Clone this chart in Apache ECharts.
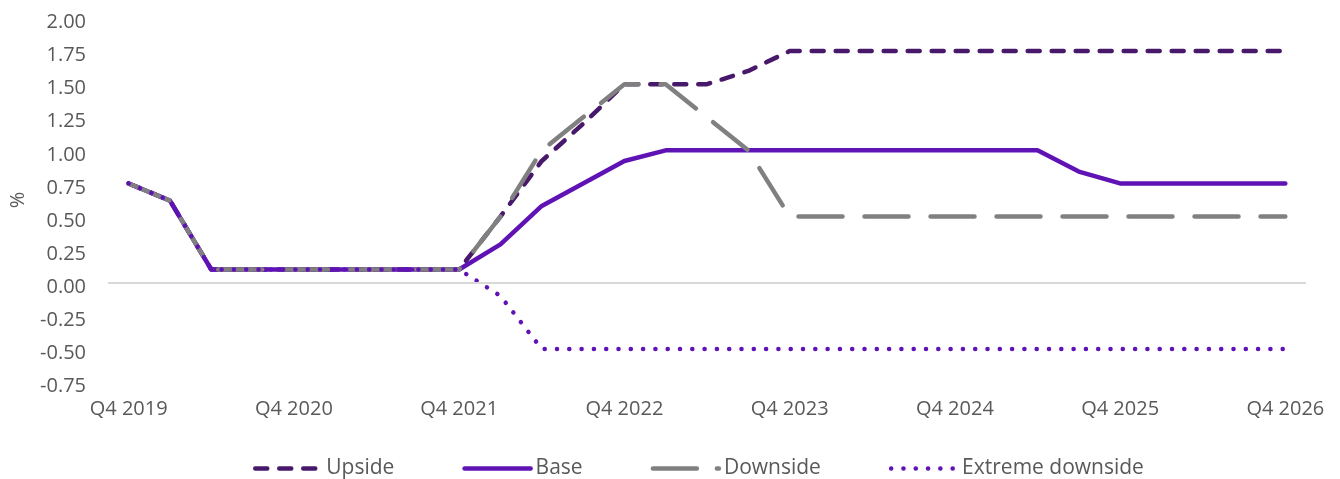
<!DOCTYPE html>
<html>
<head>
<meta charset="utf-8">
<script src="https://cdn.jsdelivr.net/npm/echarts@6/dist/echarts.min.js"></script>
<style>
html,body{margin:0;padding:0;background:#fff;}
#chart{width:1340px;height:479px;}
</style>
</head>
<body>
<div id="chart"></div>
<script>
const categories = ["Q4 2019","Q1 2020","Q2 2020","Q3 2020","Q4 2020","Q1 2021","Q2 2021","Q3 2021","Q4 2021","Q1 2022","Q2 2022","Q3 2022","Q4 2022","Q1 2023","Q2 2023","Q3 2023","Q4 2023","Q1 2024","Q2 2024","Q3 2024","Q4 2024","Q1 2025","Q2 2025","Q3 2025","Q4 2025","Q1 2026","Q2 2026","Q3 2026","Q4 2026"];
const upside = [0.75,0.62,0.1,0.1,0.1,0.1,0.1,0.1,0.1,0.5,0.92,1.2,1.5,1.5,1.5,1.6,1.75,1.75,1.75,1.75,1.75,1.75,1.75,1.75,1.75,1.75,1.75,1.75,1.75];
const base = [0.75,0.62,0.1,0.1,0.1,0.1,0.1,0.1,0.1,0.29,0.58,0.75,0.92,1,1,1,1,1,1,1,1,1,1,0.84,0.75,0.75,0.75,0.75,0.75];
const downside = [0.75,0.62,0.1,0.1,0.1,0.1,0.1,0.1,0.1,0.5,1.0,1.25,1.5,1.5,1.25,1.0,0.5,0.5,0.5,0.5,0.5,0.5,0.5,0.5,0.5,0.5,0.5,0.5,0.5];
const extremeDownside = [0.75,0.62,0.1,0.1,0.1,0.1,0.1,0.1,0.1,-0.1,-0.5,-0.5,-0.5,-0.5,-0.5,-0.5,-0.5,-0.5,-0.5,-0.5,-0.5,-0.5,-0.5,-0.5,-0.5,-0.5,-0.5,-0.5,-0.5];
const seriesNames = ["Upside","Base","Downside","Extreme downside"];

const FONT = "'Open Sans', sans-serif";
const TXT = "#595959";
const chart = echarts.init(document.getElementById('chart'), null, {renderer:'canvas'});
chart.setOption({
  animation: false,
  backgroundColor: '#ffffff',
  grid: {left: 106, right: 34, top: 18, bottom: 97},
  legend: {
    data: [
      {name: seriesNames[0]},
      {name: seriesNames[1]},
      {name: seriesNames[2], lineStyle: {type: [44, 20]}},
      {name: seriesNames[3]}
    ],
    left: 248, top: 453,
    itemWidth: 66, itemHeight: 14, itemGap: 68,
    itemStyle: {opacity: 0},
    lineStyle: {width: 4.5, cap: 'round'},
    textStyle: {fontFamily: FONT, fontSize: 21, color: TXT}
  },
  xAxis: {
    type: 'category',
    data: categories,
    boundaryGap: true,
    axisLine: {show: false},
    axisTick: {show: false},
    splitLine: {show: false},
    axisLabel: {interval: 3, margin: 17, fontFamily: FONT, fontSize: 20, color: TXT}
  },
  yAxis: {
    type: 'value',
    min: -0.75, max: 2, interval: 0.25,
    name: '%', nameLocation: 'middle', nameRotate: 90, nameGap: 80,
    nameTextStyle: {fontFamily: FONT, fontSize: 20, color: TXT},
    axisLine: {show: false},
    axisTick: {show: false},
    splitLine: {show: false},
    axisLabel: {margin: 22, fontFamily: FONT, fontSize: 20, color: TXT,
      verticalAlign: 'top', lineHeight: 9,
      formatter: v => v.toFixed(2)}
  },
  series: [
    {name: seriesNames[0], type: 'line', data: upside, symbol: 'none',
     lineStyle: {color: '#48186a', width: 4.5, type: [12, 12], cap: 'round', join: 'round'},
     itemStyle: {color: '#48186a'},
     markLine: {silent: true, symbol: 'none', label: {show: false},
       lineStyle: {color: '#d9d9d9', width: 2, type: 'solid'}, data: [{yAxis: 0}]}},
    {name: seriesNames[1], type: 'line', data: base, symbol: 'none',
     lineStyle: {color: '#6013b4', width: 4.5, cap: 'round', join: 'round'},
     itemStyle: {color: '#6013b4'}},
    {name: seriesNames[2], type: 'line', data: downside, symbol: 'none',
     lineStyle: {color: '#808080', width: 4.5, type: [44, 22], cap: 'round', join: 'round'},
     itemStyle: {color: '#808080'}},
    {name: seriesNames[3], type: 'line', data: extremeDownside, symbol: 'none',
     lineStyle: {color: '#6013b4', width: 4.5, type: [0.1, 12.2], cap: 'round', join: 'round'},
     itemStyle: {color: '#6013b4'}}
  ]
});
</script>
</body>
</html>
